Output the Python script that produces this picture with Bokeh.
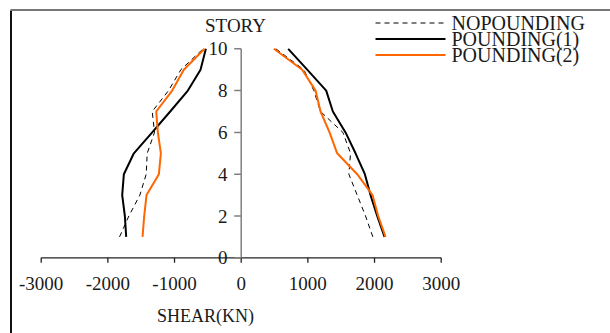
from bokeh.plotting import figure
from bokeh.models import Range1d
from bokeh.core.properties import value
from bokeh.embed import file_html
from bokeh.resources import INLINE

# Storey shear envelopes (kN) for storeys 1..10
stories = [1, 2, 3, 4, 5, 6, 7, 8, 9, 10]
nopounding_neg = [-1825, -1685, -1520, -1425, -1410, -1300, -1335, -1090, -905, -570]
nopounding_pos = [1975, 1865, 1740, 1615, 1640, 1525, 1190, 1090, 940, 520]
pounding1_neg = [-1725, -1745, -1785, -1760, -1610, -1335, -1065, -800, -610, -530]
pounding1_pos = [2150, 2040, 1940, 1855, 1715, 1565, 1375, 1275, 990, 705]
pounding2_neg = [-1480, -1455, -1420, -1235, -1205, -1250, -1275, -1035, -861, -550]
pounding2_pos = [2165, 2055, 1970, 1740, 1440, 1325, 1190, 1115, 915, 490]

x_ticks = [-3000, -2000, -1000, 0, 1000, 2000, 3000]
x_tick_labels = ["-3000", "-2000", "-1000", "0", "1000", "2000", "3000"]
y_ticks = [0, 2, 4, 6, 8, 10]
y_tick_labels = ["0", "2", "4", "6", "8", "10"]

series_names = ["NOPOUNDING", "POUNDING(1)", "POUNDING(2)"]

W, H = 610, 333
# pixel <-> data mapping: the frame fills the whole canvas
X_ORIGIN, X_SCALE = 240.7, 15.0      # px of x=0, data units per px
Y_ORIGIN, Y_SCALE = 257.3, 20.9      # px of y=0, px per storey


def dx(px):
    return (px - X_ORIGIN) * X_SCALE


def dy(py):
    return (Y_ORIGIN - py) / Y_SCALE


FONT = value("Liberation Serif")
TEXT_COLOR = "#1a1a1a"

p = figure(width=W, height=H, output_backend="svg", toolbar_location=None,
           x_range=Range1d(dx(0), dx(W)), y_range=Range1d(dy(H), dy(0)),
           x_axis_location=None, y_axis_location=None, title=None,
           min_border=0, min_border_left=0, min_border_right=0,
           min_border_top=0, min_border_bottom=0)
p.grid.visible = False
p.outline_line_color = None
p.background_fill_color = "white"
p.border_fill_color = "white"

# outer chart-area border (left and top edges)
p.segment(x0=[dx(10.5)], y0=[dy(10)], x1=[dx(10.5)], y1=[dy(H)],
          line_color="#111111", line_width=2)
p.segment(x0=[dx(10)], y0=[dy(9.5)], x1=[dx(W)], y1=[dy(9.5)],
          line_color="#777777", line_width=2)

# x axis along storey 0 with downward ticks
p.segment(x0=[x_ticks[0]], y0=[0], x1=[x_ticks[-1]], y1=[0],
          line_color="#222222", line_width=1.3)
p.segment(x0=x_ticks, y0=[0] * len(x_ticks), x1=x_ticks,
          y1=[dy(Y_ORIGIN + 5)] * len(x_ticks), line_color="#222222", line_width=1.3)
p.text(x=x_ticks, y=[dy(283)] * len(x_ticks), text=x_tick_labels,
       text_font=FONT, text_font_size="19px", text_color=TEXT_COLOR,
       text_align="center", text_baseline="middle")

# y axis through shear = 0 with ticks on the left
p.segment(x0=[0], y0=[0], x1=[0], y1=[y_ticks[-1]],
          line_color="#808080", line_width=1.5)
p.segment(x0=[dx(X_ORIGIN - 7)] * len(y_ticks), y0=y_ticks,
          x1=[0] * len(y_ticks), y1=y_ticks, line_color="#808080", line_width=1.5)
p.text(x=[dx(227)] * len(y_ticks), y=y_ticks, text=y_tick_labels,
       text_font=FONT, text_font_size="19px", text_color=TEXT_COLOR,
       text_align="right", text_baseline="middle")

# axis titles
p.text(x=[dx(235)], y=[dy(25)], text=["STORY"], text_font=FONT,
       text_font_size="19px", text_color=TEXT_COLOR,
       text_align="center", text_baseline="middle")
p.text(x=[dx(205)], y=[dy(315)], text=["SHEAR(KN)"], text_font=FONT,
       text_font_size="18px", text_color=TEXT_COLOR,
       text_align="center", text_baseline="middle")

styles = [
    dict(line_color="black", line_width=1, line_dash="5 4"),
    dict(line_color="black", line_width=2),
    dict(line_color="#FF6600", line_width=2),
]
neg_series = [nopounding_neg, pounding1_neg, pounding2_neg]
pos_series = [nopounding_pos, pounding1_pos, pounding2_pos]

for neg, pos, st in zip(neg_series, pos_series, styles):
    p.line(neg, stories, **st)
    p.line(pos, stories, **st)

# legend block at top right
legend_rows_px = [22.5, 38.5, 54.5]
for name, st, row in zip(series_names, styles, legend_rows_px):
    p.line([dx(375), dx(445)], [dy(row), dy(row)], **st)
    p.text(x=[dx(451)], y=[dy(row)], text=[name], text_font=FONT,
           text_font_size="20px", text_color=TEXT_COLOR,
           text_align="left", text_baseline="middle")

open("out.html", "w").write(file_html(p, INLINE))
